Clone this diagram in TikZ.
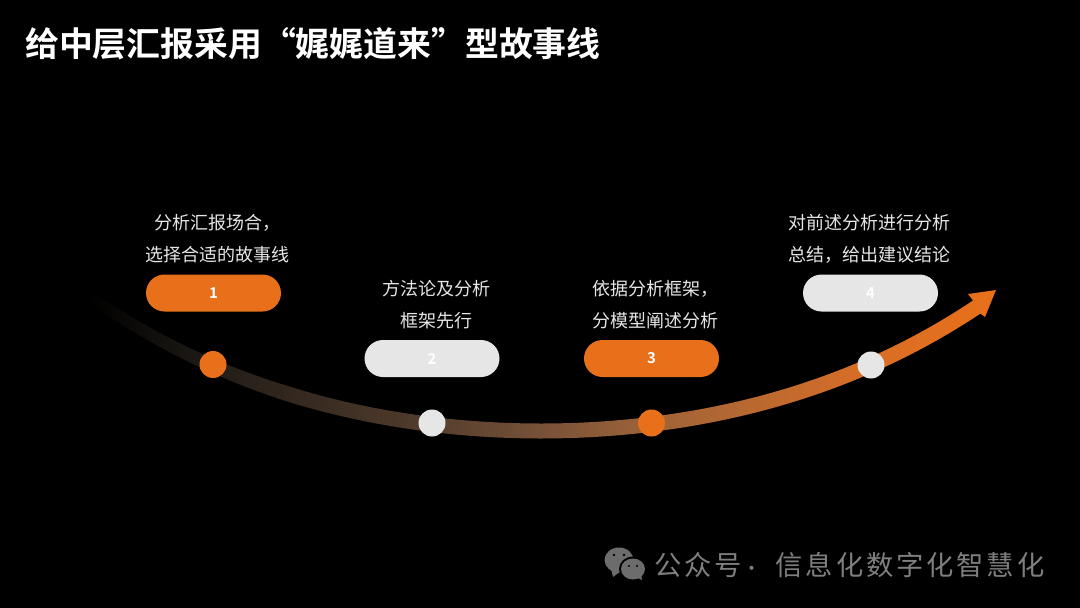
\documentclass[tikz,border=0pt]{standalone}
\usepackage{fontspec}
\setmainfont{Noto Sans CJK SC}[BoldFont={Noto Sans CJK SC Bold}]
\definecolor{accent}{HTML}{E9701A}
\definecolor{pale}{HTML}{E7E6E6}
\definecolor{mark}{HTML}{7F7F7F}
\pgfdeclarehorizontalshading{arcfade}{100bp}{
  rgb(0bp)=(0,0,0);
  rgb(25bp)=(0,0,0);
  rgb(32bp)=(0.13,0.11,0.09);
  rgb(44bp)=(0.33,0.24,0.18);
  rgb(50bp)=(0.47,0.32,0.22);
  rgb(56bp)=(0.62,0.39,0.22);
  rgb(68bp)=(0.85,0.43,0.15);
  rgb(75bp)=(0.91,0.44,0.10);
  rgb(100bp)=(0.91,0.44,0.10)}
\tikzset{
  pill/.style={fill=#1,rounded corners=18.5pt,minimum width=135pt,minimum height=37pt,inner sep=0pt,
    text=white,font=\bfseries\fontsize{15}{15}\selectfont},
  dot/.style={circle,fill=#1,minimum size=27pt,inner sep=0pt},
  caption/.style={text=pale,align=center,inner sep=0pt,font=\fontsize{18}{32}\selectfont},
  declare function={
    uu(\t)=(\t-541)/100;
    fy(\t)=431-5.42*uu(\t)^2-0.0585*uu(\t)^4;
    sl(\t)=-(10.84*uu(\t)+0.234*uu(\t)^3)/100;
    hw(\t)=(5.5+2*min(1,(\t-88)/200))*sqrt(1+sl(\t)^2);
  }
}
\begin{document}
\begin{tikzpicture}[x=1pt,y=-1pt]
\useasboundingbox (0,0) rectangle (1080,608);
\fill[black] (0,0) rectangle (1080,608);
\node[anchor=west,inner sep=0pt,text=white,font=\bfseries\fontsize{33.85}{34}\selectfont] (title) at (25,44) {给中层汇报采用“娓娓道来”型故事线};
% arc with arrowhead
\shade[shading=arcfade]
  plot[domain=88:973,samples=90,smooth] (\x,{fy(\x)-hw(\x)})
  -- (968,294) -- (996,290) -- (985,317) -- (981,314)
  -- plot[domain=980:88,samples=90,smooth] (\x,{fy(\x)+hw(\x)}) -- cycle;
\node[dot=accent] (d1) at (213,364.5) {};
\node[dot=pale] (d2) at (432,423) {};
\node[dot=accent] (d3) at (651.5,423) {};
\node[dot=pale] (d4) at (871,365) {};
\node[pill=accent] (p1) at (213.5,293) {1};
\node[pill=pale] (p2) at (432,358.5) {2};
\node[pill=accent] (p3) at (651.5,358.5) {3};
\node[pill=pale] (p4) at (870.5,293) {4};
\node[caption] (c1) at (217,239) {分析汇报场合，\\选择合适的故事线};
\node[caption] (c2) at (436,305) {方法论及分析\\框架先行};
\node[caption] (c3) at (655,305) {依据分析框架，\\分模型阐述分析};
\node[caption] (c4) at (869,238.5) {对前述分析进行分析\\总结，给出建议结论};
% watermark
\fill[mark!115] (619,560) ellipse (14.5 and 12.5);
\fill[mark!115] (611,569) -- (613,577) -- (621,571) -- cycle;
\fill[black] (633,569) ellipse (14 and 12.5);
\fill[mark!115] (633,569) ellipse (12 and 10.5);
\fill[mark!115] (636,577) -- (642,580) -- (641,574) -- cycle;
\fill[black] (614,555) circle (1.4) (624,555) circle (1.4) (629,566) circle (1.2) (637,566) circle (1.2);
\node[anchor=west,inner sep=0pt,text=mark,font=\fontsize{27.3}{27}\selectfont\addfontfeature{LetterSpace=10.5}] (wm) at (654,565) {公众号\kern1pt{\fontsize{19}{27}\selectfont ·}\kern14pt 信息化数字化智慧化};
\end{tikzpicture}
\end{document}
